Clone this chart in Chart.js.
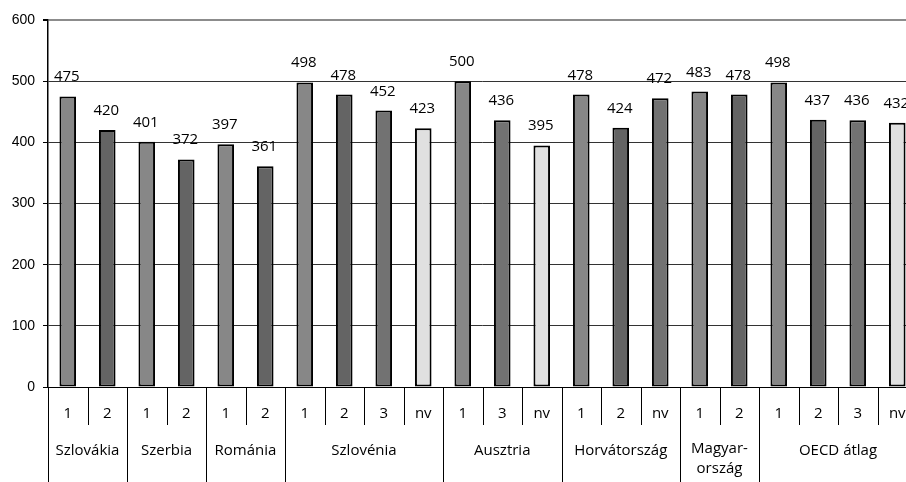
<!DOCTYPE html>
<html>
<head>
<meta charset="utf-8">
<script src="https://cdn.jsdelivr.net/npm/chart.js@4/dist/chart.umd.min.js"></script>
<style>
  html, body { margin: 0; padding: 0; background: #fff; overflow: hidden; }
  #wrap { position: relative; width: 917px; height: 482px; }
</style>
</head>
<body>
<div id="wrap"><canvas id="c"></canvas></div>
<script>
// Countries (groups) and the sub-categories shown under each one
const groups = ['Szlovákia', 'Szerbia', 'Románia', 'Szlovénia', 'Ausztria', 'Horvátország', 'Magyar-\nország', 'OECD átlag'];
const subLabels = [
  ['1', '2'],
  ['1', '2'],
  ['1', '2'],
  ['1', '2', '3', 'nv'],
  ['1', '3', 'nv'],
  ['1', '2', 'nv'],
  ['1', '2'],
  ['1', '2', '3', 'nv']
];
// Mean scores per sub-category
const scores = [
  [475, 420],
  [401, 372],
  [397, 361],
  [498, 478, 452, 423],
  [500, 436, 395],
  [478, 424, 472],
  [483, 478],
  [498, 437, 436, 432]
];
const yTicks = [0, 100, 200, 300, 400, 500, 600];

// Bar fills, one per bar in drawing order
const barFills = [
  '#878787', '#646464',
  '#878787', '#646464',
  '#878787', '#646464',
  '#878787', '#646464', '#727272', '#e0e0e0',
  '#878787', '#727272', '#e0e0e0',
  '#878787', '#646464', '#727272',
  '#878787', '#646464',
  '#878787', '#646464', '#727272', '#e0e0e0'
];

// Flatten the grouped data for the category axis
const flatLabels = [];
const flatValues = [];
const groupStart = [];
subLabels.forEach((subs, g) => {
  groupStart.push(flatLabels.length);
  subs.forEach((s, k) => {
    flatLabels.push(s);
    flatValues.push(scores[g][k]);
  });
});

const textFont = '"Open Sans", sans-serif';

// Value printed above every bar
const valueLabels = {
  id: 'valueLabels',
  afterDatasetsDraw(chart) {
    const ctx = chart.ctx;
    const meta = chart.getDatasetMeta(0);
    ctx.save();
    ctx.font = '15px ' + textFont;
    ctx.fillStyle = '#000';
    ctx.textAlign = 'center';
    ctx.textBaseline = 'alphabetic';
    meta.data.forEach((bar, i) => {
      ctx.fillText(String(flatValues[i]), bar.x - 1, bar.y - 15);
    });
    ctx.restore();
  }
};

// Two-level category axis: sub-category row and country row with separators
const groupedAxis = {
  id: 'groupedAxis',
  afterDraw(chart) {
    const ctx = chart.ctx;
    const xs = chart.scales.x;
    const area = chart.chartArea;
    const half = (xs.getPixelForValue(1) - xs.getPixelForValue(0)) / 2;
    const yTop = area.bottom;
    const yMid = yTop + 38;
    const yEnd = chart.height;
    ctx.save();
    ctx.strokeStyle = '#000';
    ctx.lineWidth = 1;
    ctx.fillStyle = '#000';
    ctx.textAlign = 'center';
    ctx.font = '15px ' + textFont;

    flatLabels.forEach((lab, i) => {
      const cx = xs.getPixelForValue(i);
      const left = Math.round(cx - half) + 0.5;
      const isStart = groupStart.includes(i);
      ctx.beginPath();
      ctx.moveTo(left, yTop);
      ctx.lineTo(left, isStart ? yEnd : yMid);
      ctx.stroke();
      ctx.fillText(lab, cx, yTop + 31);
    });
    const lastRight = Math.round(xs.getPixelForValue(flatLabels.length - 1) + half) + 0.5;
    ctx.beginPath();
    ctx.moveTo(lastRight, yTop);
    ctx.lineTo(lastRight, yEnd);
    ctx.stroke();

    groups.forEach((name, g) => {
      const first = groupStart[g];
      const last = first + subLabels[g].length - 1;
      const cx = (xs.getPixelForValue(first) + xs.getPixelForValue(last)) / 2;
      const lines = name.split('\n');
      const base = lines.length > 1 ? yTop + 66 : yTop + 68;
      lines.forEach((ln, k) => ctx.fillText(ln, cx, base + k * 20));
    });
    ctx.restore();
  }
};

new Chart(document.getElementById('c'), {
  type: 'bar',
  data: {
    labels: flatLabels,
    datasets: [{
      data: flatValues,
      backgroundColor: barFills,
      borderColor: '#000',
      borderWidth: 2,
      borderSkipped: false,
      barPercentage: 0.42,
      categoryPercentage: 1
    }]
  },
  options: {
    responsive: true,
    maintainAspectRatio: false,
    animation: false,
    devicePixelRatio: 1,
    layout: { padding: { top: 20, left: 0, right: 0, bottom: 0 } },
    plugins: {
      legend: { display: false },
      tooltip: { enabled: false }
    },
    scales: {
      x: {
        grid: { display: false },
        border: { display: true, color: '#000', width: 1 },
        ticks: { display: false },
        afterFit(scale) { scale.height = 95; }
      },
      y: {
        min: 0,
        max: 600,
        afterBuildTicks(scale) { scale.ticks = yTicks.map(v => ({ value: v })); },
        grid: {
          color: c => (c.tick && c.tick.value === 600) ? '#8c8c8c' : '#333333',
          lineWidth: c => (c.tick && c.tick.value === 600) ? 2 : 1,
          tickLength: 5,
          tickColor: '#000'
        },
        border: { display: true, color: '#000', width: 1.5 },
        ticks: {
          color: '#000',
          padding: 8,
          font: { family: '"Liberation Sans", Arial, sans-serif', size: 14 }
        },
        afterFit(scale) { scale.width = 48; }
      }
    }
  },
  plugins: [valueLabels, groupedAxis]
});
</script>
</body>
</html>
